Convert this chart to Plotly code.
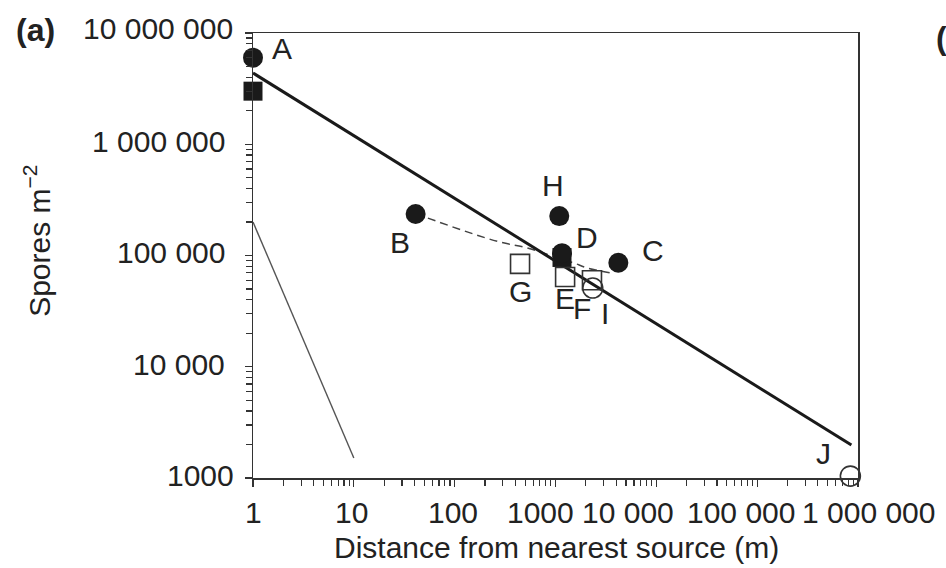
import math
import plotly.graph_objects as go

# ---------------- data ----------------
filled_circle_labels = ["A", "B", "H", "D", "C"]
filled_circle_x = [1, 41, 1090, 1160, 4200]
filled_circle_y = [6.0e6, 2.36e5, 2.26e5, 1.05e5, 8.6e4]

filled_square_x = [1, 1160]
filled_square_y = [3.0e6, 9.6e4]

open_square_labels = ["G", "E", "F"]
open_square_x = [445, 1245, 2300]
open_square_y = [8.4e4, 6.4e4, 6.0e4]

open_circle_labels = ["I", "J"]
open_circle_x = [2340, 8.4e5]
open_circle_y = [5.1e4, 1040]

fit_x = [1, 8.6e5]
fit_y = [4.37e6, 1980]

thin_x = [1, 10]
thin_y = [2.0e5, 1510]

dashed_x = [41, 54, 133, 282, 523, 990, 1500, 2100, 3460]
dashed_y = [2.36e5, 2.17e5, 1.63e5, 1.32e5, 1.17e5, 9.7e4, 8.6e4, 7.7e4, 7.0e4]

x_tick_vals = [1, 10, 100, 1000, 1e4, 1e5, 1e6]
x_tick_text = ["1", "10", "100", "1000", "10 000", "100 000", "1 000 000"]
y_tick_vals = [1e3, 1e4, 1e5, 1e6, 1e7]
y_tick_text = ["1000", "10 000", "100 000", "1 000 000", "10 000 000"]

# ---------------- style ----------------
FONT = "Liberation Sans, Arial, sans-serif"
FS = 30
INK = "#1a1a1a"
x_label_shift = [0, -2, -2, -15, -28, -16, 10]
y_label_shift = [9, 0, 0, 0, 8]
y_label_yshift = [3, 2, 3, 3, 5]
point_label_offsets = {
    "A": (29, 9), "B": (-16, -28), "H": (-6, 31), "D": (25, 16), "C": (35, 12),
    "G": (0, -28), "E": (0, -21), "F": (-10, -28), "I": (12, -25), "J": (-27, 23),
}

fig = go.Figure()
fig.add_trace(go.Scatter(x=thin_x, y=thin_y, mode="lines",
                         line=dict(color="#555555", width=1.4), showlegend=False))
fig.add_trace(go.Scatter(x=dashed_x, y=dashed_y, mode="lines", line_shape="spline",
                         line=dict(color="#444444", width=1.5, dash="8px,5px"), showlegend=False))
fig.add_trace(go.Scatter(x=fit_x, y=fit_y, mode="lines",
                         line=dict(color=INK, width=3), showlegend=False))
fig.add_trace(go.Scatter(x=filled_square_x, y=filled_square_y, mode="markers",
                         marker=dict(symbol="square", size=19, color=INK), showlegend=False,
                         cliponaxis=False))
fig.add_trace(go.Scatter(x=filled_circle_x, y=filled_circle_y, mode="markers",
                         marker=dict(symbol="circle", size=20, color=INK), showlegend=False,
                         cliponaxis=False))
fig.add_trace(go.Scatter(x=open_square_x, y=open_square_y, mode="markers",
                         marker=dict(symbol="square-open", size=19, color="#333333",
                                     line=dict(width=1.6)), showlegend=False, cliponaxis=False))
fig.add_trace(go.Scatter(x=open_circle_x, y=open_circle_y, mode="markers",
                         marker=dict(symbol="circle-open", size=20, color="#333333",
                                     line=dict(width=1.6)), showlegend=False, cliponaxis=False))

annotations = []
def add_point_labels(labels, xs, ys):
    for lab, xv, yv in zip(labels, xs, ys):
        dx, dy = point_label_offsets[lab]
        annotations.append(dict(x=math.log10(xv), y=math.log10(yv), xref="x", yref="y",
                                text=lab, showarrow=False, xshift=dx, yshift=dy,
                                font=dict(family=FONT, size=FS, color="#222222")))

add_point_labels(filled_circle_labels, filled_circle_x, filled_circle_y)
add_point_labels(open_square_labels, open_square_x, open_square_y)
add_point_labels(open_circle_labels, open_circle_x, open_circle_y)

for v, t, s in zip(x_tick_vals, x_tick_text, x_label_shift):
    annotations.append(dict(x=math.log10(v), y=0, xref="x", yref="paper", text=t,
                            showarrow=False, xanchor="center", yanchor="middle",
                            xshift=s, yshift=-34,
                            font=dict(family=FONT, size=FS, color="#222222")))
for v, t, s, ys in zip(y_tick_vals, y_tick_text, y_label_shift, y_label_yshift):
    annotations.append(dict(x=0, y=math.log10(v), xref="paper", yref="y", text=t,
                            showarrow=False, xanchor="right", yanchor="middle",
                            xshift=-26 + s, yshift=ys,
                            font=dict(family=FONT, size=FS, color="#222222")))

annotations.append(dict(x=-0.357, y=0.533, xref="paper", yref="paper",
                        text="Spores m<sup>−2</sup>", textangle=-90, showarrow=False,
                        xanchor="center", yanchor="middle",
                        font=dict(family=FONT, size=FS, color="#222222")))
annotations.append(dict(x=0.501, y=-0.157, xref="paper", yref="paper",
                        text="Distance from nearest source (m)", showarrow=False,
                        xanchor="center", yanchor="middle",
                        font=dict(family=FONT, size=FS, color="#222222")))
annotations.append(dict(x=-0.360, y=1.0, xref="paper", yref="paper",
                        text="<b>(a)</b>", showarrow=False, xanchor="center", yanchor="middle",
                        yshift=3, font=dict(family=FONT, size=32, color="#222222")))
annotations.append(dict(x=1.0, y=1.0, xref="paper", yref="paper",
                        text="<b>(b)</b>", showarrow=False, xanchor="left", yanchor="middle",
                        xshift=76, yshift=-5, font=dict(family=FONT, size=32, color="#222222")))

axis_common = dict(type="log", showgrid=False, zeroline=False, showline=True,
                   linecolor="#333333", linewidth=1.5, mirror=True,
                   ticks="outside", ticklen=7, tickwidth=1.2, tickcolor="#333333",
                   showticklabels=False,
                   minor=dict(ticks="outside", ticklen=6, tickwidth=1.2,
                              tickcolor="#333333", dtick="D1", showgrid=False))

fig.update_xaxes(range=[0, 6], tickvals=x_tick_vals, **axis_common)
fig.update_yaxes(range=[3, 7], tickvals=y_tick_vals, **axis_common)

fig.update_layout(width=946, height=568,
                  margin=dict(l=253, r=88, t=33, b=90, pad=0),
                  plot_bgcolor="white", paper_bgcolor="white",
                  font=dict(family=FONT, size=FS, color="#222222"),
                  annotations=annotations, showlegend=False)

fig.write_html("out.html", config={"displayModeBar": False, "staticPlot": True},
               post_script="document.body.style.margin='0';document.body.style.overflow='hidden';")
